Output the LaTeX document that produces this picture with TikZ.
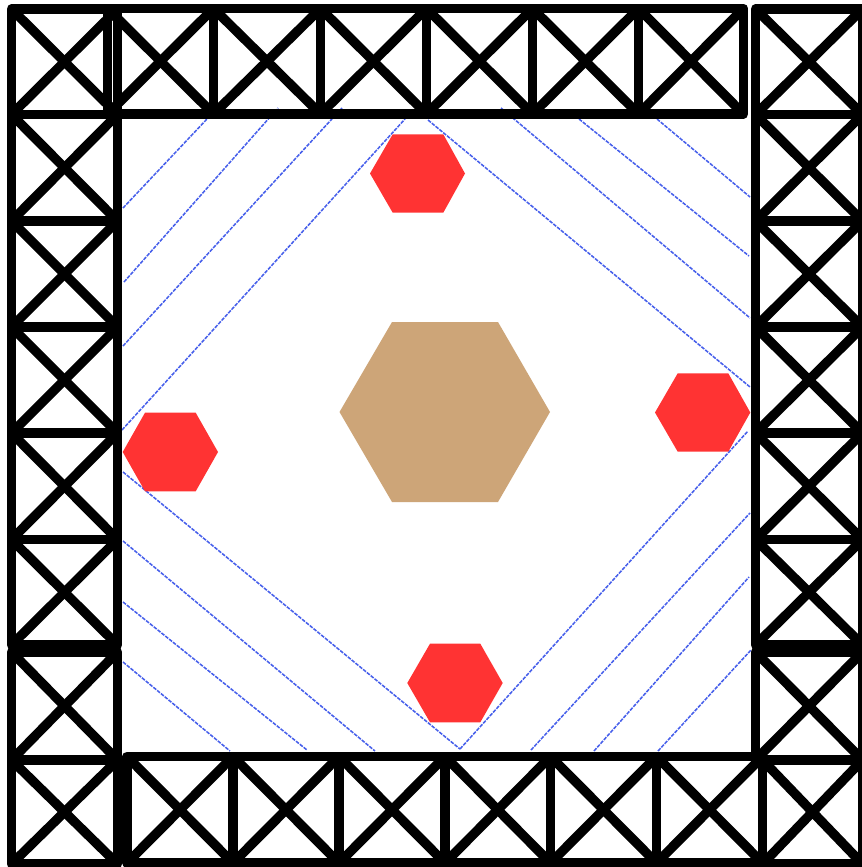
\documentclass[tikz,border=0pt]{standalone}
\definecolor{tanfill}{RGB}{205,165,120}
\definecolor{redfill}{RGB}{255,51,51}
\definecolor{hatchblue}{RGB}{70,95,235}
\tikzset{
  bar/.style={draw=black,line width=7.1pt,line join=round},
  hatch/.style={draw=hatchblue,line width=1.15pt,dash pattern=on 2.8pt off 0.9pt},
  hexred/.style={fill=redfill,draw=none},
  hextan/.style={fill=tanfill,draw=none}
}
\newcommand{\xcell}[4]{%
  \draw[bar] (#1,#2) rectangle (#3,#4);
  \draw[bar] (#1,#2) -- (#3,#4);
  \draw[bar] (#1,#4) -- (#3,#2);
}
\begin{document}
\begin{tikzpicture}[x=0.75pt,y=-0.75pt]
\useasboundingbox (0,0) rectangle (862,867);
\clip (0,0) rectangle (862,867);
\fill[white] (0,0) rectangle (862,867);
% hatching, upper left
\draw[hatch] (123,208) -- (207,119);
\draw[hatch] (124,282) -- (278,108);
\draw[hatch] (123,346) -- (342,108);
\draw[hatch] (122,430) -- (405,119);
% hatching, upper right
\draw[hatch] (428,120) -- (750,387);
\draw[hatch] (501,108) -- (750,318);
\draw[hatch] (579,119) -- (749,256);
\draw[hatch] (657,119) -- (750,197);
% hatching, lower left
\draw[hatch] (123,472) -- (460,749);
\draw[hatch] (123,541) -- (375,751);
\draw[hatch] (123,602) -- (307,750);
\draw[hatch] (123,662) -- (230,751);
% hatching, lower right
\draw[hatch] (460,749) -- (748,431);
\draw[hatch] (531,750) -- (750,513);
\draw[hatch] (594,751) -- (749,577);
\draw[hatch] (658,751) -- (751,650);
% hexagons
\fill[hextan] (339.5,412) -- (392,322) -- (498,322) -- (550,412) -- (498,502) -- (392,502) -- cycle;
\fill[hexred] (370,173.5) -- (392.7,134.3) -- (443.3,134.3) -- (465,173.5) -- (443.3,212.7) -- (392.7,212.7) -- cycle;
\fill[hexred] (122.7,452) -- (145,412.7) -- (195.7,412.7) -- (218,452) -- (195.7,491.3) -- (145,491.3) -- cycle;
\fill[hexred] (655,412.5) -- (677.7,373.3) -- (728.3,373.3) -- (750.3,412.5) -- (728.3,451.7) -- (677.7,451.7) -- cycle;
\fill[hexred] (407.3,683) -- (430,643.7) -- (480.3,643.7) -- (502.7,683) -- (480.3,722.3) -- (430,722.3) -- cycle;
% left column
\xcell{11.5}{9}{117.5}{114.5}
\xcell{11.5}{114.5}{117.5}{221}
\xcell{11.5}{221}{117.5}{327}
\xcell{11.5}{327}{117.5}{433}
\xcell{11.5}{433}{117.5}{539.5}
\xcell{11.5}{539.5}{117.5}{645}
\xcell{11.5}{652}{117.5}{760}
\xcell{11.5}{760}{117.5}{864}
% right column
\xcell{755.5}{9}{862.5}{114.5}
\xcell{755.5}{114.5}{862.5}{221}
\xcell{755.5}{221}{862.5}{327}
\xcell{755.5}{327}{862.5}{433}
\xcell{755.5}{433}{862.5}{539.5}
\xcell{755.5}{539.5}{862.5}{645}
\xcell{755.5}{652}{862.5}{760}
\xcell{762.5}{760}{862.5}{864}
% top row
\xcell{107.5}{8.5}{213.5}{114}
\xcell{213.5}{8.5}{320.5}{114}
\xcell{320.5}{8.5}{426.5}{114}
\xcell{426.5}{8.5}{532.5}{114}
\xcell{532.5}{8.5}{638.5}{114}
\xcell{638.5}{8.5}{743.5}{114}
% bottom row
\xcell{127}{756.5}{233}{863}
\xcell{233}{756.5}{339}{863}
\xcell{339}{756.5}{445}{863}
\xcell{445}{756.5}{550.5}{863}
\xcell{550.5}{756.5}{656.5}{863}
\xcell{656.5}{756.5}{762.5}{863}
\end{tikzpicture}
\end{document}
